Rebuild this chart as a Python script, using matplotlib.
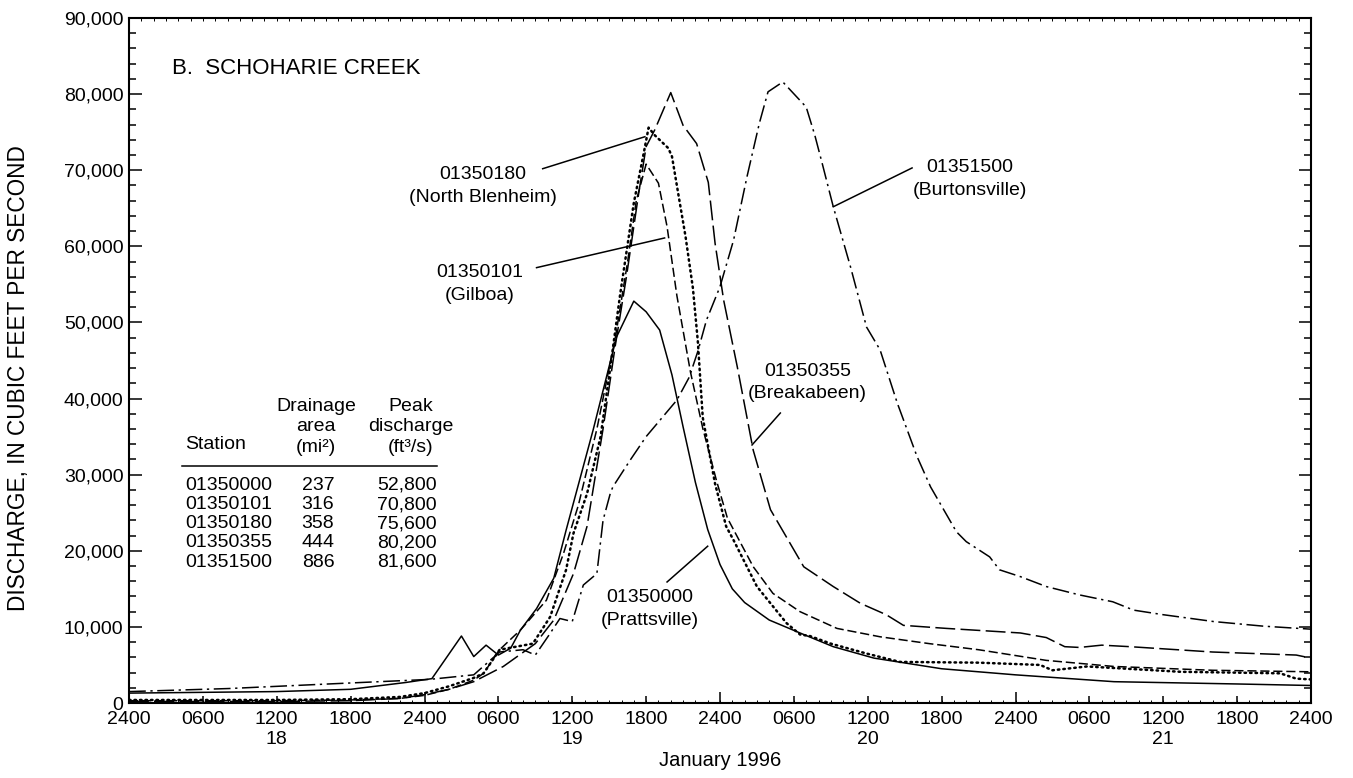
import numpy as np
import matplotlib
matplotlib.use("Agg")
import matplotlib.pyplot as plt
from matplotlib.ticker import FuncFormatter

plt.rcParams['font.family'] = ['Liberation Sans', 'DejaVu Sans']

# hours after 2400 Jan 17, 1996 ; discharge in ft3/s
pratt_h = [0, 6, 12, 18, 22.5, 24.6, 27.0, 28.0, 29.0, 30.0, 31.0, 31.8, 33.1, 34.5, 35.5, 37.7,
           39.6, 41.0, 42.0, 43.1, 44.1, 45.0, 46.0, 47.0, 48.0, 49.0, 50.0, 52.0, 54.5, 57.2,
           60.5, 66, 72, 80, 90, 96]
pratt_q = [1300, 1400, 1500, 1800, 2700, 3200, 8800, 6100, 7600, 6300, 7200, 9600, 12400, 16400,
           22700, 35900, 48100, 52800, 51400, 49000, 43100, 36300, 29000, 22800, 18200, 15000,
           13200, 10900, 9200, 7400, 5900, 4500, 3700, 2800, 2500, 2300]

gilboa_h = [0, 12, 18, 22, 24, 26, 28, 28.8, 30.1, 31.8, 33.9, 35.3, 36.5, 38.0, 39.5, 40.5,
            41.2, 42.0, 43.0, 43.7, 44.5, 45.6, 46.6, 47.7, 48.6, 50.7, 52.3, 54.5, 57.5, 61,
            65, 69, 74.5, 80, 88, 96]
gilboa_q = [300, 300, 400, 600, 1000, 1800, 3000, 3900, 7000, 9600, 13500, 19700, 26000, 36000,
            48000, 58000, 66000, 70800, 68300, 62600, 53500, 43500, 36100, 29300, 24300, 17900,
            14400, 12000, 9800, 8700, 7800, 7000, 5600, 4800, 4300, 4100]

blen_h = [0, 12, 18, 22, 24, 26, 28, 28.8, 30.1, 32.8, 34.2, 35.5, 36.1, 37.2, 38.3, 39.1, 39.9,
          41.0, 41.8, 42.2, 42.7, 43.8, 44.1, 44.6, 45.2, 45.8, 46.2, 46.6, 47.6, 48.5, 49.1,
          51.0, 53.4, 54.5, 55.3, 57, 59.9, 62.6, 69, 74, 75, 77.8, 85.4, 93.5, 94.8, 96]
blen_q = [400, 400, 500, 800, 1300, 2200, 3300, 3900, 7000, 7800, 11300, 17500, 22300, 27500,
          35000, 44200, 53800, 65700, 72200, 75600, 74600, 72900, 71800, 67000, 61300, 54500,
          47500, 37500, 28800, 23200, 21400, 15300, 10500, 9000, 8800, 7800, 6500, 5400, 5300,
          5000, 4300, 4800, 4100, 3900, 3200, 3100]

break_h = [0, 12, 18, 22, 24, 26, 28, 30.4, 33.0, 34.5, 36.1, 37.2, 38.5, 39.5, 40.4, 41.4, 42.0,
           42.7, 44.0, 45.0, 46.1, 47.05, 47.6, 48.3, 49.4, 50.7, 52.1, 54.8, 57.2, 59.4, 61.5,
           62.9, 66.4, 72.4, 74.5, 76, 77.2, 79, 81.3, 88, 94.8, 96]
break_q = [200, 200, 300, 600, 1100, 1800, 2800, 4800, 7800, 10900, 17000, 23200, 36000, 47000,
           56000, 67000, 73100, 75300, 80200, 75900, 73500, 68400, 60400, 52900, 44200, 33200,
           25400, 17900, 15300, 13100, 11600, 10200, 9800, 9200, 8600, 7400, 7300, 7600, 7400,
           6700, 6300, 5900]

burt_h = [0, 8.1, 16.2, 24.4, 28, 30.1, 32, 33, 34.1, 35.0, 36.0, 36.9, 38.0, 38.5, 39.1, 39.3,
          40.7, 42.0, 44.5, 45.5, 46.2, 46.9, 48.0, 49.1, 50.2, 51.2, 51.9, 53.1, 55.0, 55.7,
          56.3, 57.2, 58.6, 59.9, 61.0, 62.4, 64.0, 65.1, 67.2, 68.0, 69.9, 70.7, 72.4, 74.5,
          77.2, 79.9, 81.6, 84.0, 88.1, 92.1, 96]
burt_q = [1500, 1900, 2500, 3100, 3700, 6700, 7000, 6300, 8900, 11100, 10700, 15500, 17000,
          24000, 27600, 28400, 31900, 35000, 39800, 42800, 46200, 50300, 54700, 60800, 69200,
          76200, 80300, 81600, 78300, 74600, 70900, 65200, 57300, 49400, 46400, 39400, 32400,
          28400, 22500, 21200, 19200, 17500, 16600, 15300, 14200, 13300, 12200, 11600, 10700,
          10100, 9700]

stations = ['01350000', '01350101', '01350180', '01350355', '01351500']
areas = ['237', '316', '358', '444', '886']
peaks = ['52,800', '70,800', '75,600', '80,200', '81,600']

hour_labels = ['2400', '0600', '1200', '1800']
day_labels = {12: '18', 36: '19', 60: '20', 84: '21'}

fig = plt.figure(figsize=(13.53, 7.78), dpi=100, facecolor='white')
ax = fig.add_axes([129/1353, 1-703/778, (1311-129)/1353, (703-18)/778])

lw = 1.1
ax.plot(pratt_h, pratt_q, color='black', lw=lw, linestyle='-')
ax.plot(gilboa_h, gilboa_q, color='black', lw=lw, linestyle=(0, (6, 2.5)))
ax.plot(blen_h, blen_q, color='black', lw=1.8, linestyle=(0, (0.6, 1.6)), dash_capstyle='round')
ax.plot(break_h, break_q, color='black', lw=lw, linestyle=(0, (13, 3.5)))
ax.plot(burt_h, burt_q, color='black', lw=lw, linestyle=(0, (11, 3, 1.5, 3)))

ax.set_xlim(0, 96)
ax.set_ylim(0, 90000)

# x ticks: day boundaries long, 6-hour ticks short
six = np.arange(0, 97, 6)
days = six[six % 24 == 0]
others = six[six % 24 != 0]

def xlab(v):
    v = int(round(v))
    s = hour_labels[(v % 24) // 6] if v % 24 else '2400'
    if v in day_labels:
        s = s + '\n' + day_labels[v]
    return s

ax.set_xticks(days, labels=[xlab(v) for v in days])
ax.set_xticks(others, labels=[xlab(v) for v in others], minor=True)
ax.set_yticks(np.arange(0, 90001, 10000))
ax.set_yticks(np.arange(0, 90001, 2000), minor=True)
ax.yaxis.set_major_formatter(FuncFormatter(lambda v, p: '{:,.0f}'.format(v)))

ax.tick_params(axis='both', which='both', direction='in', top=True, right=True,
               labelsize=14, width=1.1, colors='black')
ax.tick_params(axis='x', which='major', length=8, pad=6)
ax.tick_params(axis='x', which='minor', length=5, pad=6)
ax.tick_params(axis='y', which='major', length=9, pad=4)
ax.tick_params(axis='y', which='minor', length=5)
for s in ax.spines.values():
    s.set_linewidth(1.5)

# faint hourly ticks
axh = ax.twiny()
axh.set_xlim(0, 96)
axh.set_xticks(np.arange(0, 97, 1))
axh.tick_params(axis='x', direction='in', bottom=True, top=True, labelbottom=False,
                labeltop=False, length=2, width=0.7)
for s in axh.spines.values():
    s.set_visible(False)

ax.set_xlabel('January 1996', fontsize=14.5, labelpad=2)
ax.set_ylabel('DISCHARGE, IN CUBIC FEET PER SECOND', fontsize=16.3)
ax.yaxis.set_label_coords(-0.0838, 0.475)

ax.text(3.5, 83300, 'B.  SCHOHARIE CREEK', fontsize=16, ha='left', va='center')

fs = 14
# station labels with leader lines
notes = [
    ('01350180\n(North Blenheim)', (28.75, 67900), (33.6, 70200), (41.9, 74400)),
    ('01350101\n(Gilboa)', (28.5, 55100), (33.1, 57200), (43.5, 61100)),
    ('01351500\n(Burtonsville)', (68.3, 68800), (63.6, 70300), (57.2, 65200)),
    ('01350355\n(Breakabeen)', (55.1, 42100), (52.9, 38100), (50.6, 33900)),
    ('01350000\n(Prattsville)', (42.3, 12400), (43.7, 15900), (47.0, 20600)),
]
for txt, tp, p0, p1 in notes:
    ax.text(tp[0], tp[1], txt, fontsize=fs, ha='center', va='center', linespacing=1.45)
    ax.plot([p0[0], p1[0]], [p0[1], p1[1]], color='black', lw=1.1)

# table of stations
ax.text(4.55, 34000, 'Station', fontsize=fs, ha='left', va='center')
for i, w in enumerate(['Drainage', 'area', '(mi²)']):
    ax.text(15.2, 39000 - i * 2700, w, fontsize=fs, ha='center', va='center')
for i, w in enumerate(['Peak', 'discharge', '(ft³/s)']):
    ax.text(22.9, 39000 - i * 2700, w, fontsize=fs, ha='center', va='center')
ax.plot([4.3, 25.0], [31100, 31100], color='black', lw=1.1)
for i in range(len(stations)):
    y = 28600 - i * 2520
    ax.text(4.55, y, stations[i], fontsize=fs, ha='left', va='center')
    ax.text(15.35, y, areas[i], fontsize=fs, ha='center', va='center')
    ax.text(25.0, y, peaks[i], fontsize=fs, ha='right', va='center')

fig.savefig('out.png', dpi=100, facecolor='white')
